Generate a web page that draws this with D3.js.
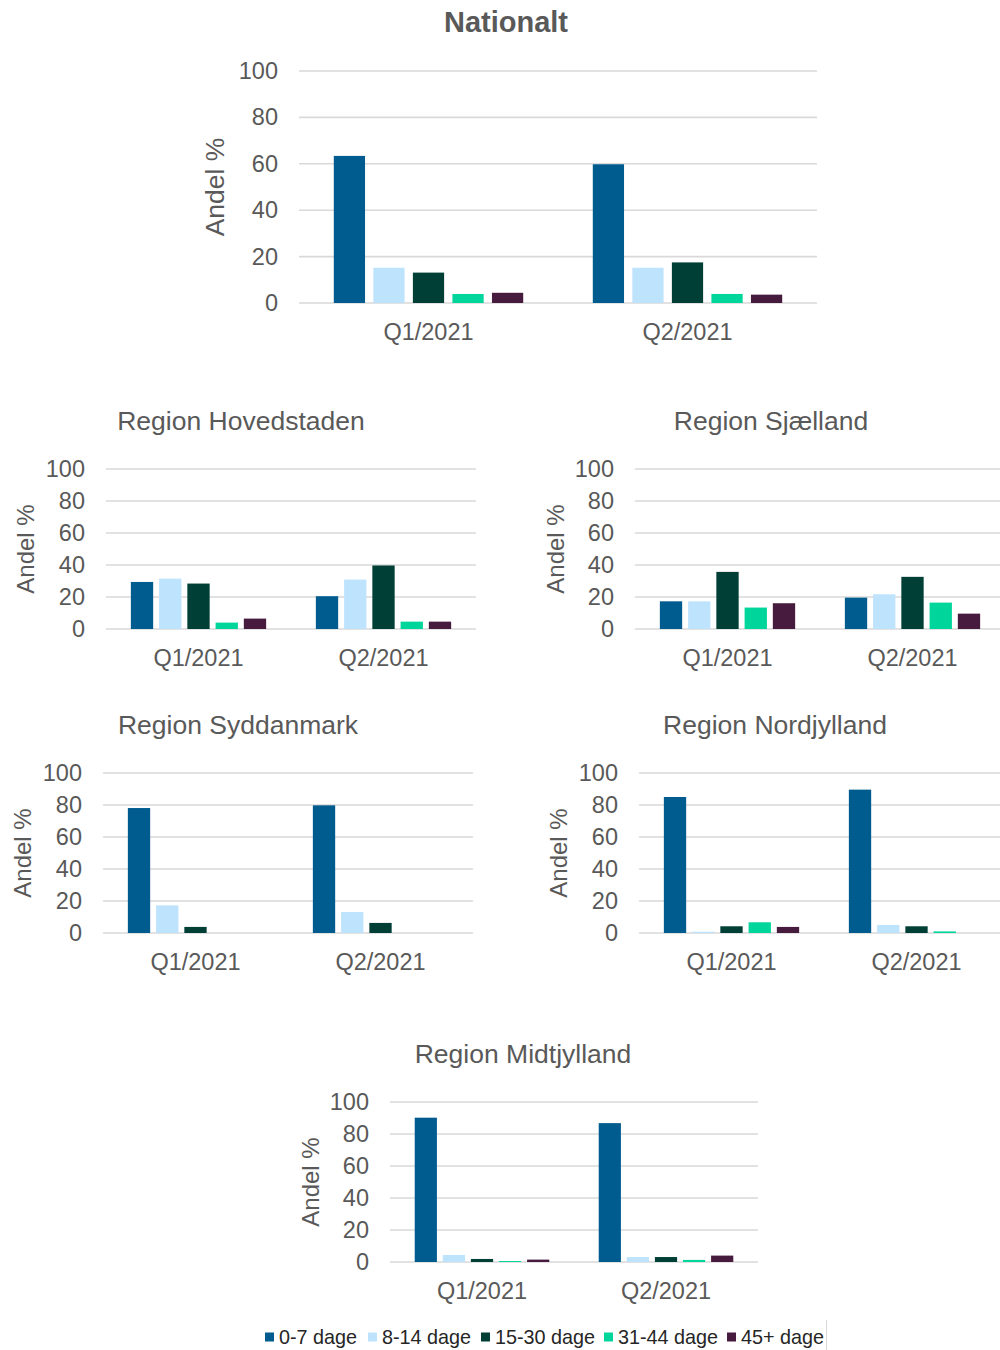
<!DOCTYPE html>
<html>
<head>
<meta charset="utf-8">
<script src="https://cdn.jsdelivr.net/npm/d3@7"></script>
<style>
  html, body { margin: 0; padding: 0; background: #ffffff; }
  svg { display: block; font-family: "Liberation Sans", Arial, sans-serif; }
</style>
</head>
<body>
<svg id="chart" width="1000" height="1350"></svg>
<script>
// Quarters shown on every x axis
const quarters = ["Q1/2021", "Q2/2021"];
// Age groups (legend order) and their colours
const ageGroups = ["0-7 dage", "8-14 dage", "15-30 dage", "31-44 dage", "45+ dage"];
const groupColors = ["#005C8F", "#BEE3FD", "#003F35", "#00D59B", "#461B3D"];
// Y axis ticks
const yTicks = [0, 20, 40, 60, 80, 100];

// Share (%) per age group, one array per quarter
const nationaltQ1 = [63.4, 15.2, 13.1, 3.9, 4.4];
const nationaltQ2 = [59.8, 15.2, 17.5, 3.9, 3.6];
const hovedstadenQ1 = [29.4, 31.5, 28.4, 4.0, 6.5];
const hovedstadenQ2 = [20.5, 30.9, 39.7, 4.6, 4.6];
const sjaellandQ1 = [17.3, 17.3, 35.7, 13.4, 16.1];
const sjaellandQ2 = [19.6, 21.7, 32.6, 16.5, 9.6];
const syddanmarkQ1 = [78.1, 17.3, 3.8, 0, 0];
const syddanmarkQ2 = [79.8, 13.1, 6.3, 0, 0];
const nordjyllandQ1 = [85.0, 0.8, 4.2, 6.7, 3.8];
const nordjyllandQ2 = [89.6, 5.0, 4.2, 1.0, 0];
const midtjyllandQ1 = [90.2, 4.4, 1.9, 0.6, 1.5];
const midtjyllandQ2 = [86.8, 3.1, 3.1, 1.3, 4.0];

const svg = d3.select("#chart");
const textColor = "#595959";
const gridColor = "#D9D9D9";
const fontFamily = "Liberation Sans, Arial, sans-serif";

// Panel frames: plot area, title position and y-title position
const panels = [
  { title: "Nationalt", bold: true, q1: nationaltQ1, q2: nationaltQ2,
    left: 299, right: 817, top: 71, bottom: 303, tx: 506, ty: 22, yl: 215, titleSize: 29, axisSize: 26.5 },
  { title: "Region Hovedstaden", q1: hovedstadenQ1, q2: hovedstadenQ2,
    left: 106, right: 476, top: 469, bottom: 629, tx: 241, ty: 421, yl: 25, titleSize: 26.5, axisSize: 24 },
  { title: "Region Sjælland", q1: sjaellandQ1, q2: sjaellandQ2,
    left: 635, right: 1005, top: 469, bottom: 629, tx: 771, ty: 421, yl: 555, titleSize: 26.5, axisSize: 24 },
  { title: "Region Syddanmark", q1: syddanmarkQ1, q2: syddanmarkQ2,
    left: 103, right: 473, top: 773, bottom: 933, tx: 238, ty: 725, yl: 22, titleSize: 26.5, axisSize: 24 },
  { title: "Region Nordjylland", q1: nordjyllandQ1, q2: nordjyllandQ2,
    left: 639, right: 1009, top: 773, bottom: 933, tx: 775, ty: 725, yl: 558, titleSize: 26.5, axisSize: 24 },
  { title: "Region Midtjylland", q1: midtjyllandQ1, q2: midtjyllandQ2,
    left: 390, right: 758, top: 1102, bottom: 1262, tx: 523, ty: 1054, yl: 310, titleSize: 26.5, axisSize: 24 }
];

panels.forEach(p => {
  const g = svg.append("g");
  const y = d3.scaleLinear().domain([0, 100]).range([p.bottom, p.top]);
  const x0 = d3.scaleBand().domain(quarters).range([p.left, p.right]).padding(0);
  const x1 = d3.scaleBand().domain(ageGroups).range([0, x0.bandwidth()])
    .paddingInner(0.21).paddingOuter(0.88);

  // Horizontal gridlines
  g.append("g").selectAll("line").data(yTicks).join("line")
    .attr("x1", p.left).attr("x2", p.right)
    .attr("y1", d => y(d)).attr("y2", d => y(d))
    .attr("stroke", gridColor).attr("stroke-width", 1.6);

  // Y axis tick labels
  const yAxis = g.append("g").attr("transform", `translate(${p.left},0)`)
    .call(d3.axisLeft(y).tickValues(yTicks).tickSize(0).tickPadding(21));
  yAxis.select(".domain").remove();
  yAxis.selectAll("text").attr("fill", textColor)
    .style("font-size", "23.5px").style("font-family", fontFamily);

  // X axis category labels
  const xAxis = g.append("g").attr("transform", `translate(0,${p.bottom})`)
    .call(d3.axisBottom(x0).tickSize(0).tickPadding(20));
  xAxis.select(".domain").remove();
  xAxis.selectAll("text").attr("fill", textColor)
    .style("font-size", "23.5px").style("font-family", fontFamily);

  // Grouped bars
  const rows = [p.q1, p.q2];
  const groups = g.append("g").selectAll("g").data(quarters).join("g")
    .attr("transform", d => `translate(${x0(d)},0)`);
  groups.selectAll("rect")
    .data((q, i) => rows[i].map((v, j) => ({ key: ageGroups[j], value: v, color: groupColors[j] })))
    .join("rect")
    .attr("x", d => x1(d.key))
    .attr("width", x1.bandwidth())
    .attr("y", d => y(d.value))
    .attr("height", d => y(0) - y(d.value))
    .attr("fill", d => d.color);

  // Panel title
  g.append("text")
    .attr("x", p.tx).attr("y", p.ty)
    .attr("text-anchor", "middle").attr("dominant-baseline", "central")
    .attr("fill", textColor)
    .style("font-size", p.titleSize + "px")
    .style("font-weight", p.bold ? "bold" : "normal")
    .text(p.title);

  // Y axis title
  g.append("text")
    .attr("transform", `translate(${p.yl},${(p.top + p.bottom) / 2}) rotate(-90)`)
    .attr("text-anchor", "middle").attr("dominant-baseline", "central")
    .attr("fill", textColor)
    .style("font-size", p.axisSize + "px")
    .text("Andel %");
});

// Legend
const legendX = [265, 368, 481, 604, 727];
const legend = svg.append("g").attr("transform", "translate(0,1337)");
const items = legend.selectAll("g").data(ageGroups).join("g")
  .attr("transform", (d, i) => `translate(${legendX[i]},0)`);
items.append("rect")
  .attr("x", 0).attr("y", -4.5).attr("width", 9).attr("height", 9)
  .attr("fill", (d, i) => groupColors[i]);
items.append("text")
  .attr("x", 14).attr("y", 0).attr("dominant-baseline", "central")
  .attr("fill", "#262626").style("font-size", "19.8px")
  .text(d => d);
svg.append("line")
  .attr("x1", 826.5).attr("x2", 826.5).attr("y1", 1320).attr("y2", 1350)
  .attr("stroke", "#D9D9D9").attr("stroke-width", 1);
</script>
</body>
</html>
